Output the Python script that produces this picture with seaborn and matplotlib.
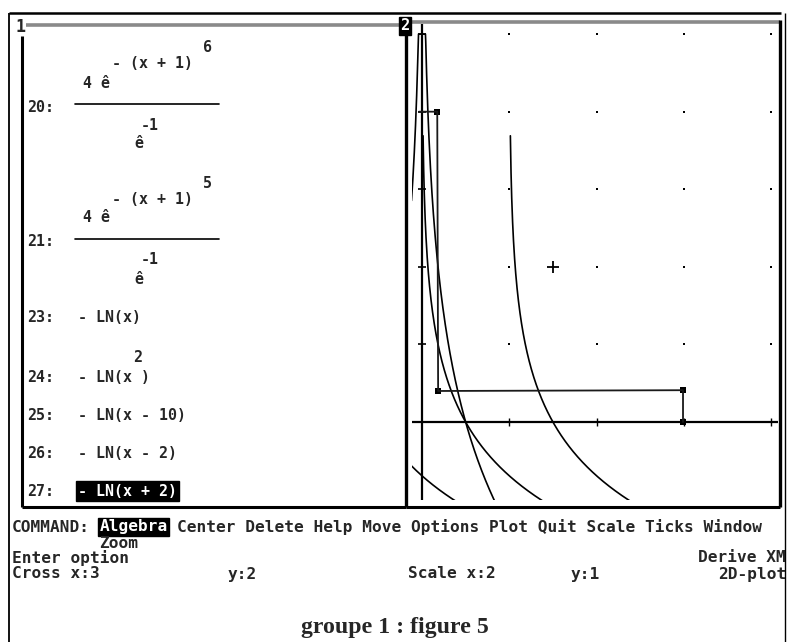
import numpy as np
import pandas as pd
import matplotlib
matplotlib.use("Agg")
import matplotlib.pyplot as plt
import seaborn as sns

# ------------------------------------------------------------------ data
# algebra window: fraction expressions 20 and 21
frac_ids = ["20:", "21:"]
frac_powers = ["6", "5"]
frac_inner = "- (x + 1)"
frac_coef = "4 ê"
frac_den_exp = "-1"
frac_den = "ê"

# algebra window: log expressions (23..27) plotted as -LN((x + shift)^power)
expr_ids = ["23:", "24:", "25:", "26:", "27:"]
expr_texts = ["- LN(x)", "- LN(x )", "- LN(x - 10)", "- LN(x - 2)", "- LN(x + 2)"]
expr_sup = ["", "2", "", "", ""]
ln_shift = [0, 0, -10, -2, 2]
ln_power = [1, 2, 1, 1, 1]

# polyline (step shape) drawn in the plot window
poly_x = [-0.07, 0.35, 0.37, 5.98, 5.98]
poly_y = [4.0, 4.0, 0.40, 0.41, 0.0]

# plot window settings
cross_x, cross_y = 3, 2
scale_x, scale_y = 2, 1
grid_x = [2, 4, 6, 8]
grid_y = [1, 2, 3, 4, 5]
x_min, x_max = -0.24, 8.156
y_min, y_max = -1.0, 5.13
y_cap = 5.0
first_sample = 0.025

# command menu
menu_items = ["Algebra", "Center", "Delete", "Help", "Move", "Options",
              "Plot", "Quit", "Scale", "Ticks", "Window"]
menu_wrap = ["Zoom"]
status_text = "Enter option"
program_name = "Derive XM"
mode_name = "2D-plot"
caption = "groupe 1 : figure 5"

# ------------------------------------------------------------------ figure
sns.set_theme(style="white")
plt.rcParams["font.family"] = ["DejaVu Sans Mono", "DejaVu Sans"]

W, H = 789, 642
fig = plt.figure(figsize=(W / 100, H / 100), dpi=100)
fig.patch.set_facecolor("white")

ov = fig.add_axes([0, 0, 1, 1])
ov.set_xlim(0, W)
ov.set_ylim(H, 0)
ov.axis("off")

K = "black"
G = "#8a8a8a"


def seg(x0, y0, x1, y1, lw=1.8, c=K):
    ov.plot([x0, x1], [y0, y1], color=c, lw=lw, solid_capstyle="butt")


# outer frame
seg(9, 13, 9, 642, lw=1.3)
seg(9, 13, 781, 13, lw=1.8)
seg(785, 13, 785, 642, lw=1.0)
# window 1
seg(26, 25, 402, 25, lw=2.6, c=G)
seg(22, 36, 22, 507, lw=2.2)
seg(22, 507, 406, 507, lw=2.2)
# divider
seg(406, 20, 406, 507, lw=2.4)
# window 2
seg(412, 22, 780, 22, lw=2.6, c=G)
seg(780, 20, 780, 507, lw=2.4)
seg(406, 507, 780, 507, lw=2.2)

ov.text(21, 27, "1", fontsize=12, fontweight="bold", ha="center", va="center")
ov.text(405, 26, "2", fontsize=11, fontweight="bold", color="white", ha="center",
        va="center", bbox=dict(boxstyle="square,pad=0.12", fc=K, ec=K))

# ---- algebra window text
fs_l = 10.8
tk = dict(fontsize=fs_l, fontweight="bold", va="center", ha="left")
block_dy = 135
for i, (fid, fp) in enumerate(zip(frac_ids, frac_powers)):
    dy = i * block_dy
    ov.text(203, 48 + dy, fp, **tk)
    ov.text(112, 64 + dy, frac_inner, **tk)
    ov.text(83, 83 + dy, frac_coef, **tk)
    ov.plot([75, 219], [104 + dy, 104 + dy], color=K, lw=1.2)
    ov.text(27, 107 + dy, fid, **tk)
    ov.text(141, 125 + dy, frac_den_exp, **tk)
    ov.text(134, 144 + dy, frac_den, **tk)

row_y = [317, 378, 415, 453, 491]
for i, (eid, et, sup) in enumerate(zip(expr_ids, expr_texts, expr_sup)):
    ov.text(27, row_y[i], eid, **tk)
    if sup:
        ov.text(133, row_y[i] - 20, sup, **tk)
    if i == len(expr_ids) - 1:
        ov.text(78, row_y[i], et, color="white",
                bbox=dict(boxstyle="square,pad=0.15", fc=K, ec=K), **tk)
    else:
        ov.text(78, row_y[i], et, **tk)

# ---- command area text
fs_b = 11.6
col = 9.72
x0c = 12
tb = dict(fontsize=fs_b, fontweight="bold", va="center", ha="left")
ov.text(x0c, 527, "COMMAND:", **tb)
ov.text(x0c + 9 * col, 527, menu_items[0], color="white",
        bbox=dict(boxstyle="square,pad=0.08", fc=K, ec=K), **tb)
ov.text(x0c + 17 * col, 527, " ".join(menu_items[1:]), **tb)
ov.text(x0c + 9 * col, 543, " ".join(menu_wrap), **tb)
ov.text(x0c, 558, status_text, **tb)
tr = dict(tb, ha="right")
ov.text(786, 558, program_name, **tr)
ov.text(x0c, 574, f"Cross x:{cross_x}", **tb)
ov.text(228, 574, f"y:{cross_y}", **tb)
ov.text(408, 574, f"Scale x:{scale_x}", **tb)
ov.text(571, 574, f"y:{scale_y}", **tb)
ov.text(786, 574, mode_name, **tr)

ov.text(395, 627, caption, fontsize=17.2, fontweight="bold", ha="center", va="center",
        family=["Liberation Serif", "DejaVu Serif"])

# ------------------------------------------------------------------ plot window
px0, px1, py0, py1 = 411.5, 778.0, 24.0, 499.6
ax = fig.add_axes([px0 / W, 1 - py1 / H, (px1 - px0) / W, (py1 - py0) / H])
ax.set_xlim(x_min, x_max)
ax.set_ylim(y_min, y_max)
ax.set_facecolor("none")
for s in ax.spines.values():
    s.set_visible(False)
ax.set_xticks([])
ax.set_yticks([])

# axes lines
ax.axhline(0, color=K, lw=1.6)
ax.axvline(0, color=K, lw=1.6)

# grid dots
gx, gy = np.meshgrid(grid_x, grid_y)
sns.scatterplot(x=gx.ravel(), y=gy.ravel(), ax=ax, color=K, s=4, marker="s",
                linewidth=0, clip_on=False)
# ticks on axes
sns.scatterplot(x=grid_x, y=[0] * len(grid_x), ax=ax, color=K, s=30, marker="|",
                linewidth=1.0)
sns.scatterplot(x=[0] * len(grid_y), y=grid_y, ax=ax, color=K, s=30, marker="_",
                linewidth=1.2)
# cross
sns.scatterplot(x=[cross_x], y=[cross_y], ax=ax, color=K, s=70, marker="+",
                linewidth=1.3)

# log curves
frames = []
for k, (sh, pw) in enumerate(zip(ln_shift, ln_power)):
    sing = -sh
    if pw % 2 == 0:
        xl = np.linspace(x_min, sing - first_sample, 200)
        xr = np.linspace(sing + first_sample, x_max, 1200)
        xs = np.concatenate([xl, xr])
    else:
        lo = max(x_min, sing + first_sample)
        if lo >= x_max:
            continue
        xs = np.linspace(lo, x_max, 1200)
    ys = -np.log((xs + sh) ** pw)
    ys = np.minimum(ys, y_cap)
    frames.append(pd.DataFrame({"x": xs, "y": ys, "curve": expr_ids[k],
                                "order": np.arange(len(xs))}))
curves = pd.concat(frames, ignore_index=True)
sns.lineplot(data=curves, x="x", y="y", units="curve", estimator=None, sort=False,
             color=K, lw=1.2, ax=ax)

# step polyline
sns.lineplot(x=poly_x, y=poly_y, ax=ax, sort=False, estimator=None, color="#1a1a1a",
             lw=1.3)
sns.scatterplot(x=poly_x[1:], y=poly_y[1:], ax=ax, color=K, s=14, marker="s",
                linewidth=0)

fig.savefig("out.png", dpi=100, facecolor="white")
